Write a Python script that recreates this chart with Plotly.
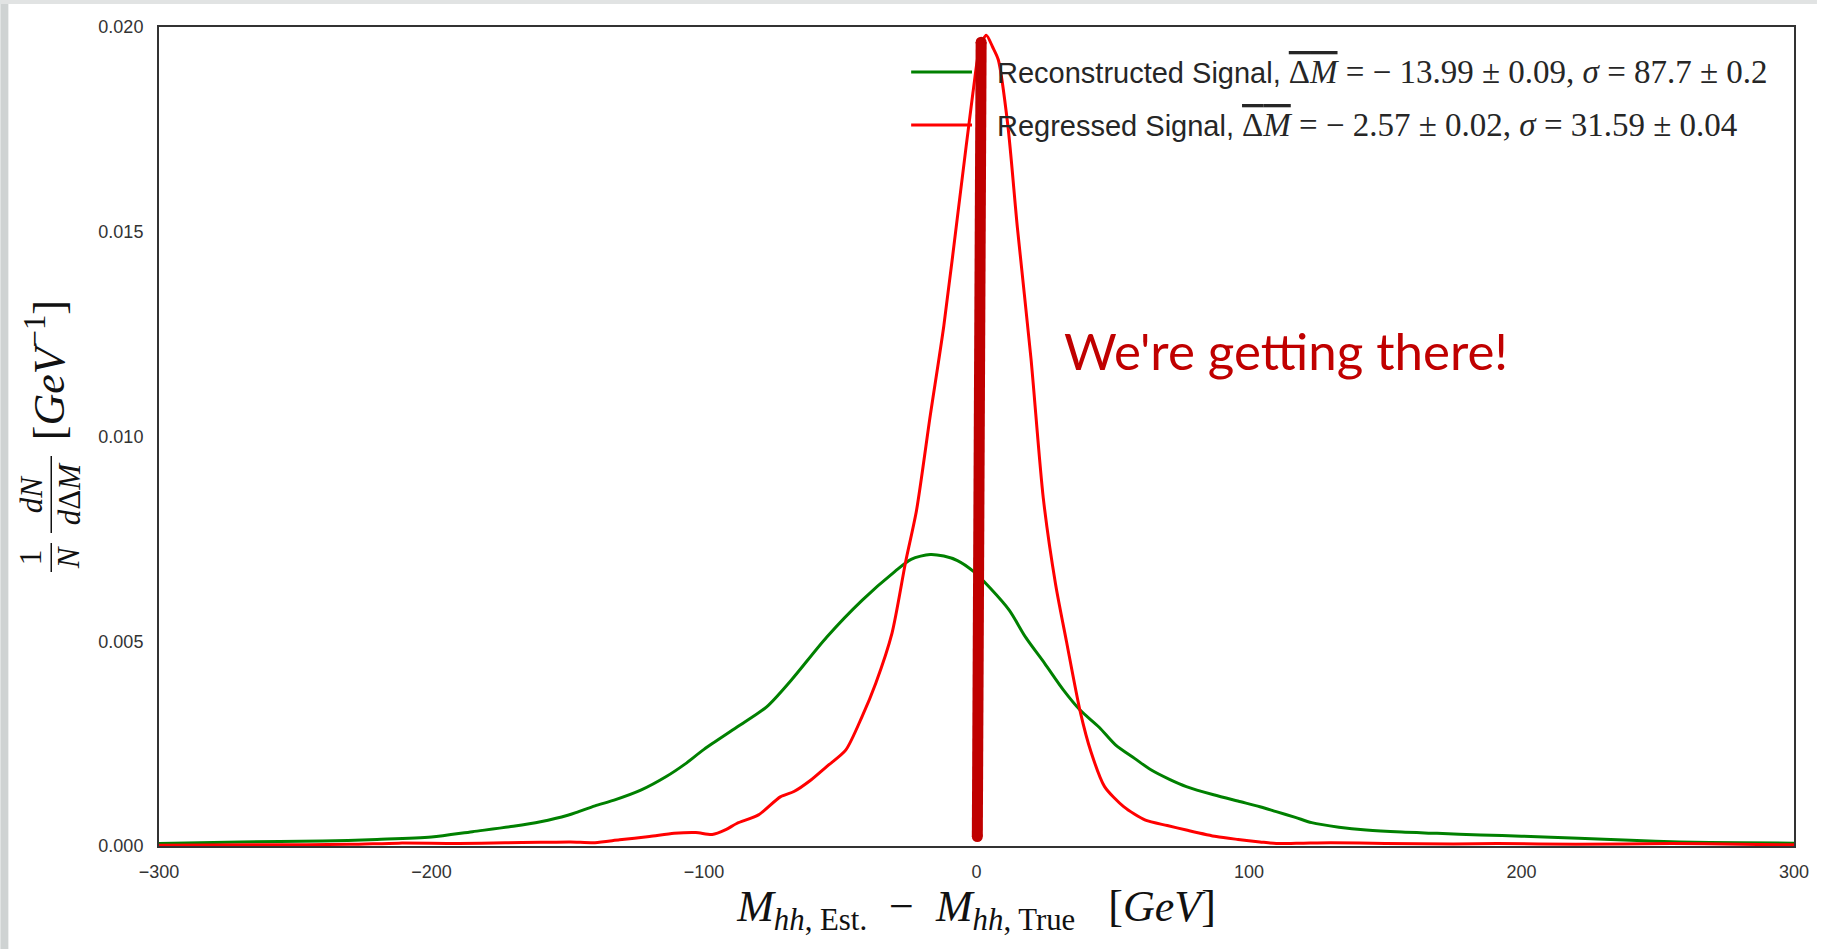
import plotly.graph_objects as go

# ---------------- data ----------------
recon_x = [-300, -270, -240, -220, -200, -185, -170, -160, -150, -146, -140, -133, -123, -114, -107,
           -100, -88, -77, -68, -55, -42, -30, -24, -17, -12, -7, -1, 5, 12, 18, 25, 32, 38, 45,
           51, 58, 64, 71, 77, 87, 97, 104, 110, 117, 123, 133, 143, 156, 169, 185, 200, 221,
           240, 258, 280, 300]
recon_y = [0.00006, 0.0001, 0.00012, 0.00016, 0.00022, 0.00035, 0.00048, 0.00059, 0.00075, 0.00084,
           0.00098, 0.00112, 0.00137, 0.00169, 0.002, 0.00236, 0.0029, 0.0034, 0.00405, 0.0051,
           0.006, 0.0067, 0.007, 0.00712, 0.00708, 0.00697, 0.0067, 0.0063, 0.00576, 0.0051, 0.00446,
           0.0038, 0.00332, 0.0029, 0.00247, 0.00214, 0.00186, 0.00162, 0.00145, 0.00125, 0.00108,
           0.00096, 0.00084, 0.0007, 0.00057, 0.00046, 0.00039, 0.00034, 0.00031, 0.00027, 0.00024,
           0.00019, 0.00014, 0.0001, 0.00008, 0.00007]

reg_x = [-300, -260, -230, -212, -190, -173, -160, -149, -140, -131, -120, -111, -103, -97, -92,
         -88, -80, -72, -67, -61, -55, -48, -42, -37, -31, -26, -22, -17, -12, -6, -1.3, 1.2, 3.6,
         6, 8, 11.5, 15, 20, 24.5, 29, 33, 38, 42, 47, 54, 62, 70, 77, 88, 96, 104, 110, 120, 130,
         150, 175, 191, 220, 255, 280, 300]
reg_y = [0.00002, 0.00003, 0.00004, 0.00007, 0.00006, 0.00008, 0.00009, 0.0001, 0.00008, 0.00015,
         0.00023, 0.00031, 0.00033, 0.00028, 0.0004, 0.00055, 0.00076, 0.0012, 0.00133, 0.0016,
         0.00194, 0.00234, 0.00316, 0.00397, 0.0052, 0.00694, 0.0082, 0.0105, 0.0127, 0.0159,
         0.0184, 0.0195, 0.0198, 0.0195, 0.0192, 0.0176, 0.0151, 0.0119, 0.0085, 0.0064, 0.0050,
         0.0033, 0.0023, 0.00145, 0.00096, 0.00063, 0.0005, 0.00039, 0.00023, 0.00016, 0.0001,
         0.00006, 0.00007, 0.00008, 0.00006, 0.00005, 0.00006, 0.00004, 0.00006, 0.00004, 0.00003]

highlight_x = [1.7, 0.3]
highlight_y = [0.01963, 0.00023]

x_ticks = [-300, -200, -100, 0, 100, 200, 300]
y_ticks = [0.0, 0.005, 0.010, 0.015, 0.020]

legend_labels = [
    "Reconstructed Signal, ",
    "Regressed Signal, ",
]
legend_math = [
    ("− 13.99 ± 0.09", "87.7 ± 0.2"),
    ("− 2.57 ± 0.02", "31.59 ± 0.04"),
]
legend_colors = ["#008000", "#ff0000"]
callout_text = "We're getting there!"

# ---------------- layout helpers ----------------
W, H = 1821, 949
L, R, T, B = 159, 23, 27, 103
PW, PH = W - L - R, H - T - B


def px(xp):
    return (xp - L) / PW


def py(yp):
    return (H - B - yp) / PH


SERIF = "Liberation Serif"
SANS = "Liberation Sans"
TXT = "#262626"

fig = go.Figure()
fig.add_trace(go.Scatter(x=recon_x, y=recon_y, mode="lines", name=legend_labels[0],
                         line=dict(color=legend_colors[0], width=3, shape="spline", smoothing=0.8),
                         showlegend=False))
fig.add_trace(go.Scatter(x=reg_x, y=reg_y, mode="lines", name=legend_labels[1],
                         line=dict(color=legend_colors[1], width=3, shape="spline", smoothing=0.7),
                         showlegend=False))
fig.add_trace(go.Scatter(x=highlight_x, y=highlight_y, mode="lines+markers",
                         line=dict(color="#c00000", width=11),
                         marker=dict(color="#c00000", size=11), showlegend=False,
                         hoverinfo="skip"))

shapes = []
# screenshot border strips
shapes.append(dict(type="rect", xref="paper", yref="paper", x0=px(0), x1=px(8), y0=py(H), y1=py(0),
                   fillcolor="#cfd3d3", line=dict(width=0), layer="below"))
shapes.append(dict(type="rect", xref="paper", yref="paper", x0=px(0), x1=px(W), y0=py(4), y1=py(0),
                   fillcolor="#e1e3e3", line=dict(width=0), layer="below"))

annotations = []
# manual legend
leg_rows = [72, 125]
for i in range(2):
    shapes.append(dict(type="line", xref="paper", yref="paper", x0=px(913), x1=px(974),
                       y0=py(leg_rows[i]), y1=py(leg_rows[i]),
                       line=dict(color=legend_colors[i], width=3)))
    mean_s, sig_s = legend_math[i]
    txt = (legend_labels[i] +
           f"<span style=\"font-family:'{SERIF}';font-size:33px\">"
           "<span style=\"text-decoration:overline\">Δ<i>M</i></span>"
           f" = {mean_s}, <i>σ</i> = {sig_s}</span>")
    annotations.append(dict(xref="paper", yref="paper", x=px(997), y=py(leg_rows[i]),
                            xanchor="left", yanchor="middle", text=txt, showarrow=False,
                            font=dict(family=SANS, size=29, color=TXT)))

# callout
annotations.append(dict(xref="paper", yref="paper", x=px(1064), y=py(350), xanchor="left",
                        yanchor="middle", text=callout_text, showarrow=False,
                        font=dict(family="Lato", size=51, color="#c00000")))

# y-axis title built from pieces (fractions)
yt_font_small = dict(family=SERIF, size=31, color="#111111")
annotations += [
    dict(xref="paper", yref="paper", x=px(31), y=py(557), text="1", textangle=-90,
         showarrow=False, font=yt_font_small, xanchor="center", yanchor="middle"),
    dict(xref="paper", yref="paper", x=px(69), y=py(557), text="<i>N</i>", textangle=-90,
         showarrow=False, font=yt_font_small, xanchor="center", yanchor="middle"),
    dict(xref="paper", yref="paper", x=px(31), y=py(494), text="<i>dN</i>", textangle=-90,
         showarrow=False, font=yt_font_small, xanchor="center", yanchor="middle"),
    dict(xref="paper", yref="paper", x=px(69), y=py(494), text="<i>d</i>Δ<i>M</i>", textangle=-90,
         showarrow=False, font=yt_font_small, xanchor="center", yanchor="middle"),
    dict(xref="paper", yref="paper", x=px(46), y=py(370),
         text="[<i>GeV</i><sup>−1</sup>]", textangle=-90, showarrow=False,
         font=dict(family=SERIF, size=44, color="#111111"), xanchor="center", yanchor="middle"),
]
shapes.append(dict(type="line", xref="paper", yref="paper", x0=px(51), x1=px(51),
                   y0=py(543), y1=py(572), line=dict(color="#111111", width=1.5)))
shapes.append(dict(type="line", xref="paper", yref="paper", x0=px(51), x1=px(51),
                   y0=py(456), y1=py(533), line=dict(color="#111111", width=1.5)))

axis_common = dict(showgrid=False, zeroline=False, showline=True, mirror=True,
                   linecolor="#333333", linewidth=2, ticks="",
                   tickfont=dict(family=SANS, size=18, color="#333333"))

fig.update_layout(
    width=W, height=H,
    margin=dict(l=L, r=R, t=T, b=B, pad=0),
    paper_bgcolor="white", plot_bgcolor="white",
    shapes=shapes, annotations=annotations,
    xaxis=dict(range=[-300, 300], tickvals=x_ticks, ticklabelstandoff=8,
               title=dict(text="<i>M</i><sub><i>hh</i>, Est.</sub>  −  <i>M</i><sub><i>hh</i>, True</sub>   [<i>GeV</i>]",
                          font=dict(family=SERIF, size=44, color="#111111"), standoff=6),
               **axis_common),
    yaxis=dict(range=[0, 0.02], tickvals=y_ticks, tickformat=".3f", ticklabelstandoff=10,
               **axis_common),
    showlegend=False,
)

fig.write_html("out.html")
